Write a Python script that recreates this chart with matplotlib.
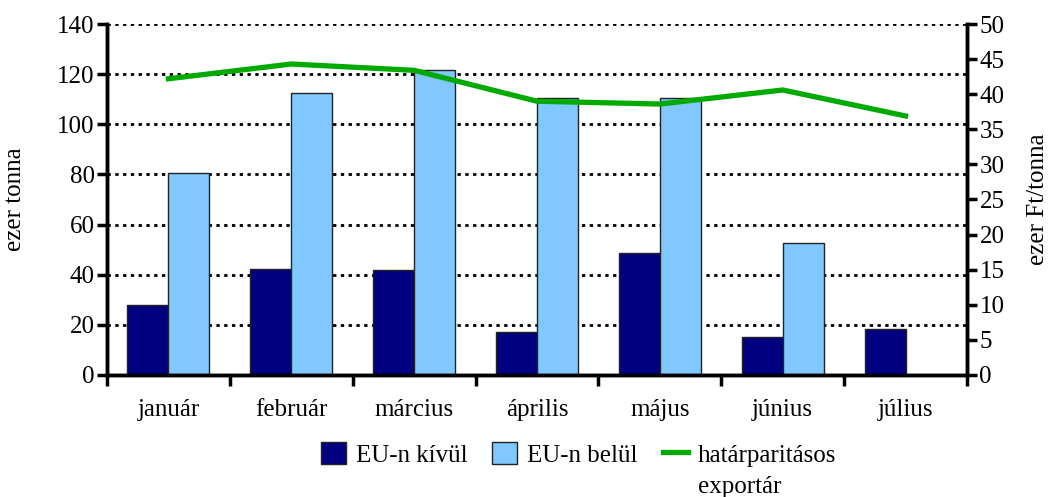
import matplotlib.pyplot as plt
import numpy as np

plt.rcParams['font.family'] = ['Liberation Serif', 'DejaVu Serif']

# data
months = ['január', 'február', 'március', 'április', 'május', 'június', 'július']
eu_kivul = [28, 42.2, 41.8, 17.2, 48.8, 15.2, 18.4]
eu_belul = [80.6, 112.6, 121.8, 110.4, 110.4, 52.6, 0]
export_ar = [42.2, 44.3, 43.4, 39.0, 38.6, 40.6, 36.9]

x = np.arange(len(months))
w = 1 / 3
fs = 18

fig = plt.figure(figsize=(10.48, 4.97), dpi=100)
ax = fig.add_axes([0.1021, 0.2455, 0.8206, 0.7062])
ax2 = ax.twinx()

# gridlines first so bars cover them
ax.set_axisbelow(True)
ax.yaxis.grid(True, linestyle=(0, (1.2, 1.6)), color='black', linewidth=2)

b1 = ax.bar(x - w / 2, eu_kivul, width=w, color='#000080', edgecolor='#222222', linewidth=1)
b2 = ax.bar(x + w / 2, eu_belul, width=w, color='#80C8FF', edgecolor='#222222', linewidth=1)
l1, = ax2.plot(x, export_ar, color='#00AA00', linewidth=3.8)

ax.set_xlim(-0.5, len(months) - 0.5)
ax.set_ylim(0, 140)
ax2.set_ylim(0, 50)
ax.set_yticks(np.arange(0, 141, 20))
ax2.set_yticks(np.arange(0, 51, 5))

ax.set_xticks(x)
ax.set_xticklabels(months, fontsize=fs)
ax.set_xticks(np.arange(-0.5, len(months), 1), minor=True)
ax.tick_params(axis='x', which='major', length=0, pad=17)
ax.tick_params(axis='x', which='minor', length=8, width=2.5)
ax.tick_params(axis='y', labelsize=fs, length=7, width=2.5, pad=2)
ax2.tick_params(axis='y', labelsize=fs, length=7, width=2.5, pad=2)

for a in (ax, ax2):
    a.spines['top'].set_visible(False)
    for s in ('left', 'right', 'bottom'):
        a.spines[s].set_linewidth(2.5)

ax.set_ylabel('ezer tonna', fontsize=fs, labelpad=22)
ax2.set_ylabel('ezer Ft/tonna', fontsize=fs, labelpad=16)

leg = fig.legend([b1, b2, l1], ['EU-n kívül', 'EU-n belül', 'határparitásos'],
                 loc='center', bbox_to_anchor=(0.552, 0.086), ncol=3, frameon=False,
                 fontsize=fs, handlelength=1.0, handleheight=1.0, handletextpad=0.4,
                 columnspacing=1.0, borderpad=0)

# second line of the last legend label
fig.canvas.draw()
bb = leg.get_texts()[2].get_window_extent().transformed(fig.transFigure.inverted())
fig.text(bb.x0, bb.y0 - 0.018, 'exportár', fontsize=fs, va='top', ha='left')

plt.savefig('out.png', dpi=100)
